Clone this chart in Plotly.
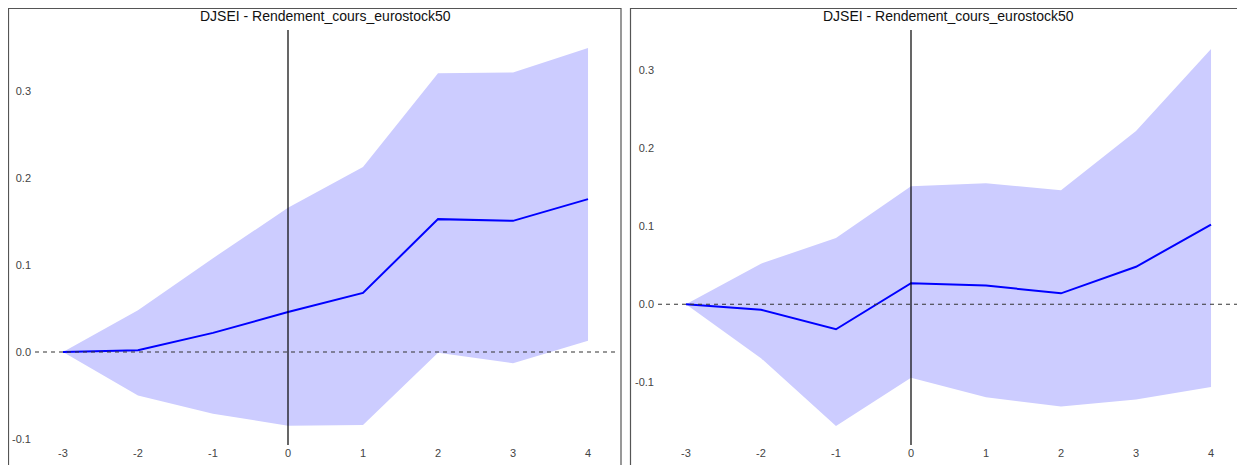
import plotly.graph_objects as go

horizons = [-3, -2, -1, 0, 1, 2, 3, 4]
tick_x = [-3, -2, -1, 0, 1, 2, 3, 4]
tick_x_text = ["-3", "-2", "-1", "0", "1", "2", "3", "4"]
tick_y = [-0.1, 0.0, 0.1, 0.2, 0.3]
tick_y_text = ["-0.1", "0.0", "0.1", "0.2", "0.3"]
title_text = "DJSEI - Rendement_cours_eurostock50"

left_mid = [0.0, 0.002, 0.022, 0.046, 0.068, 0.153, 0.151, 0.176]
left_upper = [0.0, 0.048, 0.108, 0.166, 0.213, 0.321, 0.322, 0.350]
left_lower = [0.0, -0.050, -0.071, -0.085, -0.084, -0.001, -0.013, 0.013]

right_mid = [0.0, -0.007, -0.032, 0.027, 0.024, 0.014, 0.048, 0.102]
right_upper = [0.0, 0.052, 0.085, 0.151, 0.155, 0.146, 0.222, 0.327]
right_lower = [0.0, -0.069, -0.156, -0.094, -0.119, -0.131, -0.122, -0.106]

# the page body has an 8px margin, so the figure is sized to fill the rest of the window
W, H = 1237, 457
BAND = "#CCCCFF"
LINE = "#0000FF"
FONT = "Liberation Sans, Arial, sans-serif"
TICKFONT = dict(family=FONT, size=11, color="#444444")

fig = go.Figure()

panels = [
    dict(mid=left_mid, up=left_upper, lo=left_lower, xa="x", ya="y",
         xdom=[27 / W, 608 / W], yrange=[-0.1071, 0.3708], box=[0.5, 613]),
    dict(mid=right_mid, up=right_upper, lo=right_lower, xa="x2", ya="y2",
         xdom=[650 / W, 1231 / W], yrange=[-0.1802, 0.3512], box=[622.5, 1231.5]),
]

ydom = [1 - 437 / H, 1 - 22 / H]

for i, p in enumerate(panels):
    fig.add_trace(go.Scatter(x=horizons, y=p["up"], mode="lines", line=dict(width=0, color=BAND),
                             xaxis=p["xa"], yaxis=p["ya"], showlegend=False, hoverinfo="skip"))
    fig.add_trace(go.Scatter(x=horizons, y=p["lo"], mode="lines", line=dict(width=0, color=BAND),
                             fill="tonexty", fillcolor=BAND,
                             xaxis=p["xa"], yaxis=p["ya"], showlegend=False, hoverinfo="skip"))
    fig.add_trace(go.Scatter(x=horizons, y=p["mid"], mode="lines", line=dict(width=2, color=LINE),
                             xaxis=p["xa"], yaxis=p["ya"], showlegend=False))
    sfx = "" if i == 0 else "2"
    fig.add_shape(type="line", xref=f"x{sfx} domain", yref=f"y{sfx}", x0=0, x1=1, y0=0, y1=0,
                  line=dict(color="#333333", width=1.2, dash="4px,4px"), layer="above")
    fig.add_shape(type="line", xref=f"x{sfx}", yref=f"y{sfx} domain", x0=0, x1=0, y0=0, y1=1,
                  line=dict(color="#000000", width=1.2), layer="above")
    fig.add_shape(type="rect", xref="paper", yref="paper",
                  x0=p["box"][0] / W, x1=p["box"][1] / W, y0=-0.2, y1=1 - 0.5 / H,
                  line=dict(color="#555555", width=1.2), fillcolor="rgba(0,0,0,0)")
    fig.add_annotation(text=title_text, xref=f"x{sfx} domain", yref="paper",
                       x=0.5, y=1 - 8 / H,
                       showarrow=False, xanchor="center", yanchor="middle",
                       font=dict(family=FONT, size=14, color="#111111"))

common_x = dict(range=[-3.373, 4.373], tickvals=tick_x, ticktext=tick_x_text, showgrid=False,
                zeroline=False, showline=False, ticks="", tickfont=TICKFONT)
common_y = dict(tickvals=tick_y, ticktext=tick_y_text, showgrid=False, zeroline=False,
                showline=False, ticks="", tickfont=TICKFONT, ticklabelstandoff=3)

fig.update_layout(
    width=W, height=H,
    margin=dict(l=0, r=0, t=0, b=0),
    paper_bgcolor="white", plot_bgcolor="white",
    xaxis=dict(domain=panels[0]["xdom"], anchor="y", **common_x),
    yaxis=dict(domain=ydom, anchor="x", range=panels[0]["yrange"], **common_y),
    xaxis2=dict(domain=panels[1]["xdom"], anchor="y2", **common_x),
    yaxis2=dict(domain=ydom, anchor="x2", range=panels[1]["yrange"], **common_y),
)

fig.write_html("out.html")
